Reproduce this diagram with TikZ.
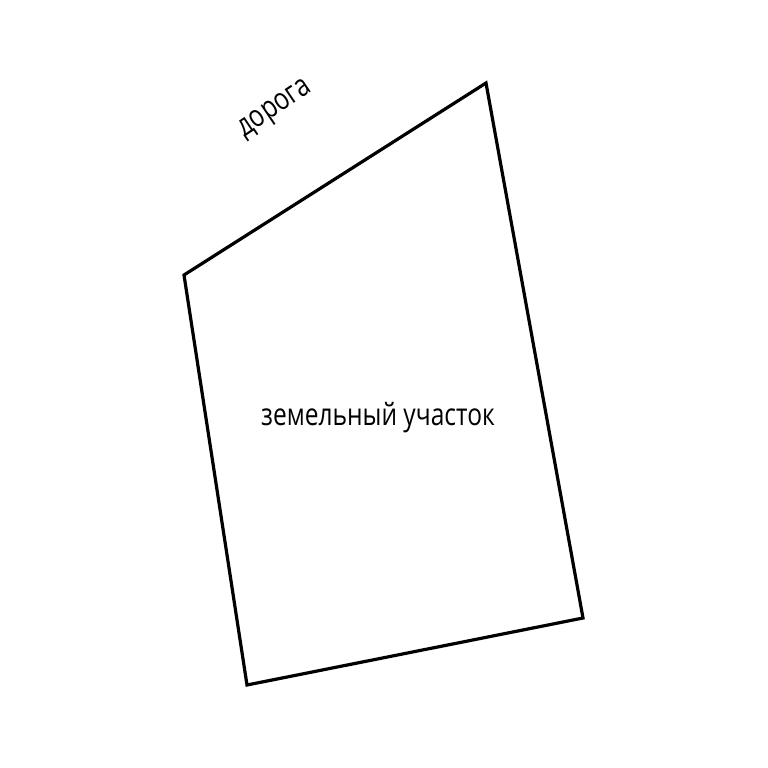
\documentclass[tikz,border=0pt]{standalone}
\usepackage{fontspec}
\setmainfont{Open Sans}[FakeStretch=0.8]
\usepackage{tikz}

\begin{document}
\begin{tikzpicture}[x=0.75pt,y=0.75pt,yscale=-1,xscale=1]
%set diagram left start at 0, and has size of 768 x 768
\useasboundingbox (0,0) rectangle (768,768);

%Corners of the plot
\coordinate (left) at (184,275);
\coordinate (top) at (486,83);
\coordinate (right) at (583,618);
\coordinate (bottom) at (247,685);

%Straight Lines
\draw [line width=2.4pt,line join=miter]  (left) -- (top) -- (right) -- (bottom) -- cycle ;

% Text Node
\node (road) at (276,110) [rotate=34,inner sep=0.75pt] [font=\fontsize{23}{27}\selectfont] {дорога};
% Text Node
\node (plot) at (378,418) [inner sep=0.75pt] [font=\fontsize{23}{27}\selectfont] {земельный участок};

\end{tikzpicture}
\end{document}
